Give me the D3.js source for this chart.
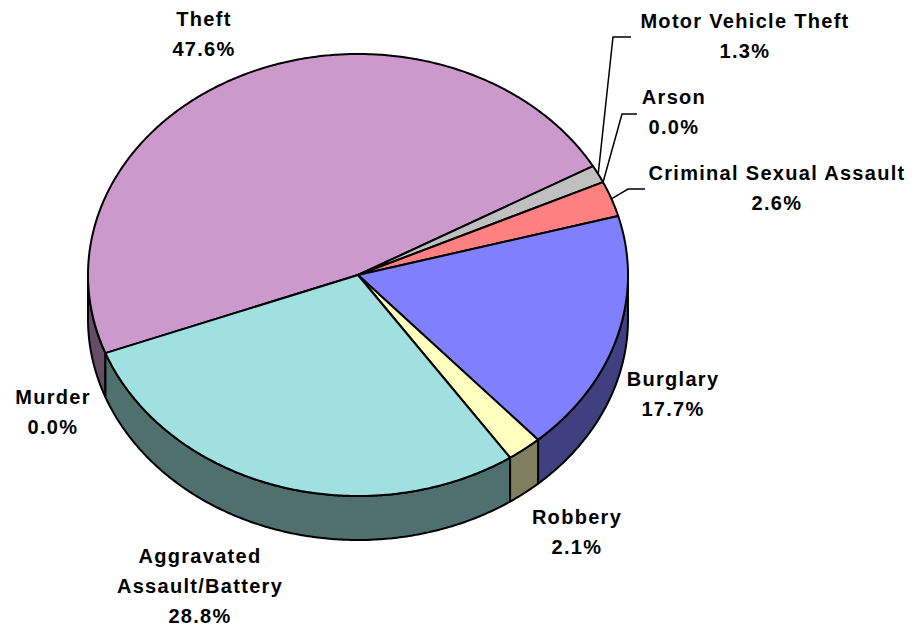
<!DOCTYPE html>
<html>
<head>
<meta charset="utf-8">
<script src="https://cdn.jsdelivr.net/npm/d3@7"></script>
<style>
  body { margin: 0; background: #fff; }
  .lbl { font-family: "Liberation Sans", Arial, sans-serif; font-weight: bold; font-size: 20px; letter-spacing: 1.3px; fill: #000; }
</style>
</head>
<body>
<svg id="chart"></svg>
<script>
// data (percent of total), in drawing order clockwise
const categories = ['Theft', 'Motor Vehicle Theft', 'Arson', 'Criminal Sexual Assault',
    'Burglary', 'Robbery', 'Aggravated Assault/Battery', 'Murder'];
const values = [47.6, 1.3, 0.0, 2.6, 17.7, 2.1, 28.8, 0.0];
const pctLabels = ['47.6%', '1.3%', '0.0%', '2.6%', '17.7%', '2.1%', '28.8%', '0.0%'];
const topColors = ['#CC99CC', '#C0C0C0', '#9999FF', '#FF8080', '#8080FF', '#FFFFC0', '#A0E0E0', '#993366'];

// layout
const W = 917, H = 629;
const cx = 358, cy = 275, rx = 270, ry = 221, depth = 44;
const startDeg = 159.3; // parametric angle, clockwise from 3 o'clock

// label layout: name lines, centre x, first baseline
const labelLayout = {
    'Theft': {x: 204, y: 26, lines: ['Theft']},
    'Motor Vehicle Theft': {x: 745, y: 28, lines: ['Motor Vehicle Theft'], leader: [[613, 37], [631, 37]]},
    'Arson': {x: 674, y: 104, lines: ['Arson'], leader: [[622, 114], [637, 114]]},
    'Criminal Sexual Assault': {x: 777, y: 180, lines: ['Criminal Sexual Assault'], leader: [[628, 189], [645, 189]]},
    'Burglary': {x: 673, y: 386, lines: ['Burglary']},
    'Robbery': {x: 577, y: 524, lines: ['Robbery']},
    'Aggravated Assault/Battery': {x: 200, y: 563, lines: ['Aggravated', 'Assault/Battery']},
    'Murder': {x: 53, y: 404, lines: ['Murder']}
};
const lineGap = 30;

const svg = d3.select('#chart').attr('width', W).attr('height', H);

const rad = Math.PI / 180;
const pie = d3.pie().sort(null).value(d => d.value)
    .startAngle(startDeg * rad)
    .endAngle((startDeg + 360) * rad);
const slices = pie(categories.map((c, i) => ({name: c, value: values[i], color: topColors[i]})));

const pt = (t, dy = 0) => [cx + rx * Math.cos(t), cy + ry * Math.sin(t) + dy];
function arcPts(a, b, dy) {
    const n = Math.max(2, Math.ceil(Math.abs(b - a) / (0.5 * rad)));
    return d3.range(n + 1).map(k => pt(a + (b - a) * k / n, dy));
}
const line = d3.line();
const half = c => { const r = d3.rgb(c); return d3.rgb(r.r / 2, r.g / 2, r.b / 2).formatHex(); };

// sides (only the front half, t in [0, PI] mod 2PI)
const sideG = svg.append('g');
slices.forEach(s => {
    [0, 2 * Math.PI].forEach(off => {
        const a = Math.max(s.startAngle, off), b = Math.min(s.endAngle, off + Math.PI);
        if (b - a <= 1e-6) return;
        const pts = arcPts(a, b, 0).concat(arcPts(b, a, depth));
        sideG.append('path')
            .attr('d', line(pts) + 'Z')
            .attr('fill', half(s.data.color))
            .attr('stroke', '#000')
            .attr('stroke-width', 2)
            .attr('stroke-linejoin', 'round');
    });
});

// top face
const topG = svg.append('g');
slices.forEach(s => {
    if (s.endAngle - s.startAngle <= 1e-6) return;
    const pts = [[cx, cy]].concat(arcPts(s.startAngle, s.endAngle, 0));
    topG.append('path')
        .attr('d', line(pts) + 'Z')
        .attr('fill', s.data.color)
        .attr('stroke', '#000')
        .attr('stroke-width', 2)
        .attr('stroke-linejoin', 'round');
});

// leader lines and labels
const labG = svg.append('g');
slices.forEach((s, i) => {
    const L = labelLayout[s.data.name];
    if (L.leader) {
        const mid = (s.startAngle + s.endAngle) / 2;
        labG.append('path')
            .attr('d', line([pt(mid)].concat(L.leader)))
            .attr('fill', 'none')
            .attr('stroke', '#000')
            .attr('stroke-width', 1.5);
    }
    const lines = L.lines.concat([pctLabels[i]]);
    const t = labG.append('text').attr('class', 'lbl').attr('text-anchor', 'middle');
    lines.forEach((ln, k) => {
        t.append('tspan').attr('x', L.x).attr('y', L.y + k * lineGap).text(ln);
    });
});
</script>
</body>
</html>
